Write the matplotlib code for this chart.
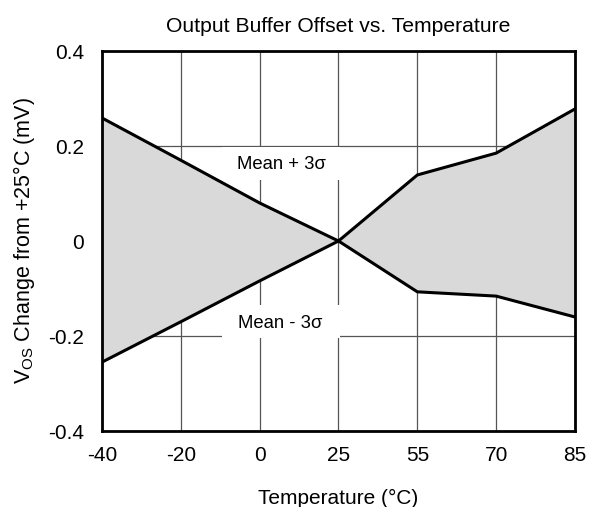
import matplotlib
matplotlib.use('Agg')
import matplotlib.pyplot as plt
from matplotlib.patches import Rectangle
import numpy as np

plt.rcParams['font.family'] = ['Liberation Sans', 'DejaVu Sans']

temps = ['-40', '-20', '0', '25', '55', '70', '85']
upper = [0.259, 0.170, 0.080, 0.0, 0.139, 0.185, 0.278]
lower = [-0.255, -0.170, -0.084, 0.0, -0.107, -0.116, -0.160]
yticks = [-0.4, -0.2, 0, 0.2, 0.4]
ytick_labels = ['-0.4', '-0.2', '0', '0.2', '0.4']

fig = plt.figure(figsize=(5.98, 5.07), dpi=100)
ax = fig.add_axes([0.1706, 0.1499, 0.7909, 0.7495])

x = np.arange(len(temps))
ax.fill_between(x, lower, upper, color='#d9d9d9', zorder=2, linewidth=0)
ax.plot(x, upper, color='black', lw=2.2, zorder=3)
ax.plot(x, lower, color='black', lw=2.2, zorder=3)

ax.set_xlim(0, len(temps) - 1)
ax.set_ylim(-0.4, 0.4)
ax.set_xticks(x)
ax.set_xticklabels(temps)
ax.set_yticks(yticks)
ax.set_yticklabels(ytick_labels)
ax.tick_params(length=0, labelsize=15)
ax.tick_params(axis='y', pad=13)
ax.tick_params(axis='x', pad=11)
ax.grid(True, color='#555555', lw=0.9, zorder=0.5)
ax.set_axisbelow(True)
for s in ax.spines.values():
    s.set_linewidth(2)
    s.set_zorder(4)

# white boxes behind the labels hide the grid only
ax.add_patch(Rectangle((1.52, 0.128), 1.50, 0.070, facecolor='white',
                       edgecolor='none', zorder=1))
ax.add_patch(Rectangle((1.52, -0.205), 1.50, 0.070, facecolor='white',
                       edgecolor='none', zorder=1))
ax.text(2.27, 0.162, 'Mean + 3σ', ha='center', va='center', fontsize=13.3, zorder=1.5)
ax.text(2.26, -0.173, 'Mean - 3σ', ha='center', va='center', fontsize=13.3, zorder=1.5)

ax.set_title('Output Buffer Offset vs. Temperature', fontsize=15.2, pad=14)
ax.set_xlabel('Temperature (°C)', fontsize=15, labelpad=17)
ax.set_ylabel(r'V$_{\mathregular{OS}}$ Change from +25°C (mV)', fontsize=15.5, labelpad=8)

fig.savefig('out.png', dpi=100)
